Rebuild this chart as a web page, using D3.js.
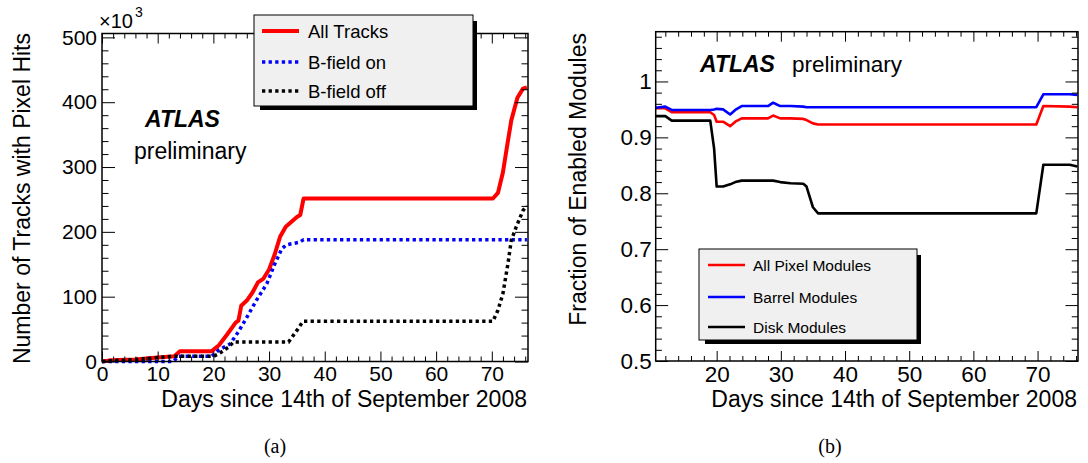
<!DOCTYPE html>
<html><head><meta charset="utf-8">
<script src="https://cdn.jsdelivr.net/npm/d3@7/dist/d3.min.js"></script>
<style>
body{margin:0;background:#fff;}
svg{display:block;}
text{font-family:"Liberation Sans",Arial,Helvetica,sans-serif;fill:#000;}
</style></head>
<body>
<svg id="c" width="1088" height="463"></svg>
<script>
// ---------- Panel (a): tracks with pixel hits (units of 10^3) ----------
const allTracksDays = [0,1,1.5,6,7,10,13,14,19.7,21,22.5,24,24.5,25,26,27,28,29,30,31,32,33,35,35.6,36.2,70.2,71.1,72,72.7,73.5,74.6,75.6,76.3];
const allTracksVals = [0,1,2,3,4,6,8,16,16,25,42,60,63,86,94,106,122,128,142,165,193,208,223,226,251.5,251.5,260,292,330,372,407,421,423];
const bOnDays = [0,12.8,13.7,19.7,21,23,24.5,26,27.7,29.6,31,32.3,33.1,35.5,36.2,76.3];
const bOnVals = [0,0,8,8,18,27,46,68,94,120,150,174,180,184,188,188];
const bOffDays = [0,1,6,10,13,20,21,22.7,23.6,33.5,35,36.1,70.2,71.1,72,72.9,73.5,74.4,75.6,76.3];
const bOffVals = [0,1,3,6,8,8,12,22,30,30,48,62,62,79,105,151,187,208,233,240];
const leftLegend = ["All Tracks","B-field on","B-field off"];
const leftXTicks = [0,10,20,30,40,50,60,70];
const leftYTicks = [0,100,200,300,400,500];

// ---------- Panel (b): fraction of enabled modules ----------
const modDays   = [10.5,12,13,19,19.6,20,21,22.1,22.9,23.9,28,28.8,29.9,31.5,33.5,34,35,35.8,69.8,70.9,75,76.2];
const allPixel  = [0.952,0.952,0.945,0.945,0.940,0.928,0.928,0.920,0.928,0.934,0.934,0.939,0.934,0.934,0.933,0.931,0.925,0.923,0.923,0.956,0.955,0.954];
const barrel    = [0.953,0.955,0.949,0.949,0.950,0.951,0.950,0.941,0.949,0.956,0.956,0.962,0.956,0.956,0.955,0.954,0.954,0.954,0.954,0.977,0.977,0.976];
const disk      = [0.938,0.938,0.930,0.930,0.880,0.812,0.812,0.816,0.820,0.8226,0.8226,0.8226,0.820,0.818,0.817,0.812,0.775,0.764,0.764,0.851,0.851,0.848];
const rightLegend = ["All Pixel Modules","Barrel Modules","Disk Modules"];
const rightXTicks = [20,30,40,50,60,70];
const rightYTicks = [0.5,0.6,0.7,0.8,0.9,1];

const xTitle = "Days since 14th of September 2008";

const svg = d3.select("#c");
svg.append("rect").attr("width",1088).attr("height",463).attr("fill","#fff");

function drawAxes(x, y, xMaj, xMin, yMaj, yMin, o) {
  const [xl, xr] = x.range(), [yb, yt] = y.range();
  const fmt = d3.format("~g");
  const clean = g => { g.select(".domain").remove(); g.selectAll("line").attr("stroke","#000").attr("stroke-width",1); };
  svg.append("g").attr("transform",`translate(0,${yb})`)
    .call(d3.axisBottom(x).tickValues(xMaj).tickSize(-o.xMaj).tickPadding(o.xPad).tickFormat(fmt))
    .call(clean).call(g=>g.selectAll("text").attr("font-size",o.fs).attr("font-family","Liberation Sans, Arial"));
  svg.append("g").attr("transform",`translate(0,${yb})`)
    .call(d3.axisBottom(x).tickValues(xMin).tickSize(-o.xMaj/2).tickFormat(""))
    .call(clean);
  svg.append("g").attr("transform",`translate(0,${yt})`)
    .call(d3.axisTop(x).tickValues(xMaj).tickSize(-o.xMaj).tickFormat("")).call(clean);
  svg.append("g").attr("transform",`translate(0,${yt})`)
    .call(d3.axisTop(x).tickValues(xMin).tickSize(-o.xMaj/2).tickFormat("")).call(clean);
  svg.append("g").attr("transform",`translate(${xl},0)`)
    .call(d3.axisLeft(y).tickValues(yMaj).tickSize(-o.yMaj).tickPadding(o.yPad).tickFormat(fmt))
    .call(clean).call(g=>g.selectAll("text").attr("font-size",o.fs).attr("font-family","Liberation Sans, Arial"));
  svg.append("g").attr("transform",`translate(${xl},0)`)
    .call(d3.axisLeft(y).tickValues(yMin).tickSize(-o.yMaj/2).tickFormat("")).call(clean);
  svg.append("g").attr("transform",`translate(${xr},0)`)
    .call(d3.axisRight(y).tickValues(yMaj).tickSize(-o.yMaj).tickFormat("")).call(clean);
  svg.append("g").attr("transform",`translate(${xr},0)`)
    .call(d3.axisRight(y).tickValues(yMin).tickSize(-o.yMaj/2).tickFormat("")).call(clean);
}

function frame(x, y) {
  const [xl, xr] = x.range(), [yb, yt] = y.range();
  svg.append("rect").attr("x",xl).attr("y",yt).attr("width",xr-xl).attr("height",yb-yt)
    .attr("fill","none").attr("stroke","#000").attr("stroke-width",1.5);
}

function legend(bx, by, bw, bh, items, o) {
  svg.append("path")
    .attr("d",`M${bx+6},${by+bh} L${bx+bw+4},${by+bh} L${bx+bw+4},${by+bh+4} L${bx+6},${by+bh+4}Z M${bx+bw},${by+6} L${bx+bw+4},${by+6} L${bx+bw+4},${by+bh+4} L${bx+bw},${by+bh+4}Z`)
    .attr("fill","#000");
  svg.append("rect").attr("x",bx).attr("y",by).attr("width",bw).attr("height",bh)
    .attr("fill","#f0f0f0").attr("stroke","#000").attr("stroke-width",1);
  items.forEach((it,i)=>{
    const cy = o.rows[i];
    svg.append("line").attr("x1",o.lx1).attr("x2",o.lx2).attr("y1",cy).attr("y2",cy)
      .attr("stroke",it.color).attr("stroke-width",it.w).attr("stroke-dasharray",it.dash||null);
    svg.append("text").attr("x",o.tx).attr("y",cy).attr("dy","0.36em")
      .attr("font-size",o.fs).text(it.label);
  });
}

// ================= Panel (a) =================
const xa = d3.scaleLinear().domain([0,76.5]).range([102,528]);
const ya = d3.scaleLinear().domain([0,506]).range([361.5,33.5]);
const lineA = (days, vals) => d3.line().x((d,i)=>xa(days[i])).y((d,i)=>ya(vals[i]))(vals);

svg.append("path").attr("d",lineA(allTracksDays,allTracksVals)).attr("fill","none")
  .attr("stroke","#ff0000").attr("stroke-width",4).attr("stroke-linejoin","round");
svg.append("path").attr("d",lineA(bOnDays,bOnVals)).attr("fill","none")
  .attr("stroke","#0000ff").attr("stroke-width",3.5).attr("stroke-dasharray","3.3 3.3");
svg.append("path").attr("d",lineA(bOffDays,bOffVals)).attr("fill","none")
  .attr("stroke","#000").attr("stroke-width",3.5).attr("stroke-dasharray","3.3 3.3");

drawAxes(xa, ya, leftXTicks, d3.range(0,76.5,2).filter(v=>v%10!==0),
  leftYTicks, d3.range(0,506,20).filter(v=>v%100!==0),
  {xMaj:10, yMaj:13, xPad:5, yPad:5, fs:21});
frame(xa, ya);

svg.append("text").attr("x",527).attr("y",407).attr("text-anchor","end").attr("font-size",23).text(xTitle);
svg.append("text").attr("transform","translate(30,33) rotate(-90)").attr("text-anchor","end")
  .attr("font-size",23).text("Number of Tracks with Pixel Hits");
const exp = svg.append("text").attr("x",99).attr("y",28).attr("font-size",20);
exp.append("tspan").text("\u00d710");
exp.append("tspan").attr("font-size",14).attr("dx",2).attr("dy",-11).text("3");

svg.append("text").attr("x",145).attr("y",126.5).attr("font-size",23).attr("font-weight","bold")
  .attr("font-style","italic").text("ATLAS");
svg.append("text").attr("x",134).attr("y",158.5).attr("font-size",23).text("preliminary");

legend(254, 15, 219, 91, [
  {label:leftLegend[0], color:"#ff0000", w:4},
  {label:leftLegend[1], color:"#0000ff", w:3.5, dash:"3.3 3.3"},
  {label:leftLegend[2], color:"#000", w:3.5, dash:"3.3 3.3"}
], {rows:[31,62,91], lx1:262, lx2:299, tx:308, fs:18.5});

// ================= Panel (b) =================
const xb = d3.scaleLinear().domain([10.5,76.3]).range([655.7,1078]);
const yb = d3.scaleLinear().domain([0.5,1.089]).range([361,31.7]);
const lineB = vals => d3.line().x((d,i)=>xb(modDays[i])).y(d=>yb(d))(vals);

[[allPixel,"#ff0000"],[barrel,"#0000ff"],[disk,"#000"]].forEach(([v,c])=>{
  svg.append("path").attr("d",lineB(v)).attr("fill","none").attr("stroke",c)
    .attr("stroke-width",2.6).attr("stroke-linejoin","round");
});

drawAxes(xb, yb, rightXTicks, d3.range(12,76.3,2).filter(v=>v%10!==0),
  rightYTicks, d3.range(0.52,1.089,0.02).filter(v=>Math.abs(v*10-Math.round(v*10))>1e-6),
  {xMaj:10, yMaj:12.5, xPad:5, yPad:4, fs:22.5});
frame(xb, yb);

svg.append("text").attr("x",1077).attr("y",407).attr("text-anchor","end").attr("font-size",23).text(xTitle);
svg.append("text").attr("transform","translate(586,33) rotate(-90)").attr("text-anchor","end")
  .attr("font-size",23).text("Fraction of Enabled Modules");

svg.append("text").attr("x",700).attr("y",72).attr("font-size",23).attr("font-weight","bold")
  .attr("font-style","italic").text("ATLAS");
svg.append("text").attr("x",792).attr("y",72).attr("font-size",22.5).text("preliminary");

legend(699, 249, 218, 91, [
  {label:rightLegend[0], color:"#ff0000", w:2.6},
  {label:rightLegend[1], color:"#0000ff", w:2.6},
  {label:rightLegend[2], color:"#000", w:2.6}
], {rows:[265,297,327], lx1:708, lx2:745, tx:753, fs:15.5});

// captions
svg.append("text").attr("x",275).attr("y",453).attr("text-anchor","middle")
  .style("font-family","Liberation Serif, serif").attr("font-size",20).text("(a)");
svg.append("text").attr("x",830).attr("y",453).attr("text-anchor","middle")
  .style("font-family","Liberation Serif, serif").attr("font-size",20).text("(b)");
</script>
</body></html>
